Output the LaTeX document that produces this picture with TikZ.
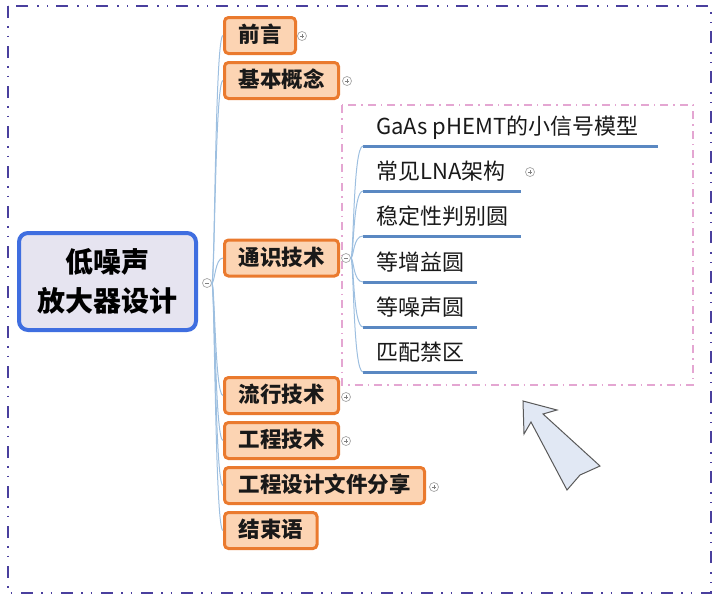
\documentclass[tikz,border=0pt]{standalone}
\usepackage{fontspec}
\setmainfont{Noto Sans CJK SC}
\definecolor{topicline}{HTML}{3F6EE0}
\definecolor{topicfill}{HTML}{E6E4F0}
\definecolor{branchline}{HTML}{EA7A2E}
\definecolor{branchfill}{HTML}{FCD4B3}
\definecolor{linkblue}{HTML}{9DBFE0}
\definecolor{sublineblue}{HTML}{5A88C2}
\definecolor{framecol}{HTML}{4A3F9E}
\definecolor{boxpink}{HTML}{E4A6D2}
\definecolor{arrowfill}{HTML}{E1E8F4}
\tikzset{
  topic/.style={draw=topicline, line width=4pt, fill=topicfill, rounded corners=9pt,
    minimum width=177pt, minimum height=97pt, align=center,
    font=\fontsize{28}{39}\selectfont\bfseries},
  branch/.style={draw=branchline, line width=3pt, fill=branchfill, rounded corners=4pt,
    anchor=west, inner xsep=14pt, minimum height=36pt, text height=17pt, text depth=3pt,
    font=\fontsize{21.5}{26}\selectfont\bfseries, text=black!90},
  subtopic/.style={anchor=south west, inner xsep=13pt, inner ysep=7pt,
    text height=16pt, text depth=4pt, font=\fontsize{22}{26}\selectfont, text=black!90},
  subline/.style={draw=sublineblue, line width=3pt},
  link/.style={draw=linkblue, line width=1pt},
  toggle/.style={circle, draw=gray!70, fill=white, line width=0.7pt, minimum size=9pt, inner sep=0pt},
  toggleplus/.style={toggle, path picture={
    \draw[gray, line width=0.7pt] ([xshift=-2.2pt]path picture bounding box.center) -- ([xshift=2.2pt]path picture bounding box.center)
      ([yshift=-2.2pt]path picture bounding box.center) -- ([yshift=2.2pt]path picture bounding box.center);}},
  toggleminus/.style={toggle, path picture={
    \draw[gray, line width=0.7pt] ([xshift=-2.2pt]path picture bounding box.center) -- ([xshift=2.2pt]path picture bounding box.center);}},
  frame/.style={draw=framecol, line width=2pt, dash pattern=on 12pt off 8pt on 1.5pt off 8pt on 1.5pt off 9pt},
  pinkbox/.style={draw=boxpink, line width=1.5pt, dash pattern=on 8pt off 5pt on 1.5pt off 5pt}
}
\begin{document}
\begin{tikzpicture}[x=1pt,y=-1pt]
\useasboundingbox (0,0) rectangle (720,598);
\draw[frame] (8,6) rectangle (711,593);
\draw[pinkbox] (342,105) rectangle (693,385);
% central topic
\node[topic] (lna) at (107.5,281.5) {低噪声\\放大器设计};
\node[toggleminus] (ltog) at (207,283) {};
% main branches
\node[branch] (pre) at (223,35.5) {前言};
\node[branch] (basic) at (223,80.5) {基本概念};
\node[branch] (gen) at (223,258) {通识技术};
\node[branch] (pop) at (223,395.5) {流行技术};
\node[branch] (eng) at (223,440.5) {工程技术};
\node[branch] (share) at (223,485.5) {工程设计文件分享};
\node[branch] (end) at (223,530.5) {结束语};
\node[toggleplus] (pretog) at (302,36) {};
\node[toggleplus] (basictog) at (347,81) {};
\node[toggleminus] (gentog) at (346,258) {};
\node[toggleplus] (poptog) at (346,397) {};
\node[toggleplus] (engtog) at (346,441) {};
\node[toggleplus] (sharetog) at (434,487) {};
\draw[link] (ltog.east) .. controls +(3,0) and +(-8,0) .. (pre.west);
\draw[link] (ltog.east) .. controls +(3,0) and +(-8,0) .. (basic.west);
\draw[link] (ltog.east) .. controls +(3,0) and +(-8,0) .. (gen.west);
\draw[link] (ltog.east) .. controls +(3,0) and +(-8,0) .. (pop.west);
\draw[link] (ltog.east) .. controls +(3,0) and +(-8,0) .. (eng.west);
\draw[link] (ltog.east) .. controls +(3,0) and +(-8,0) .. (share.west);
\draw[link] (ltog.east) .. controls +(3,0) and +(-8,0) .. (end.west);
% sub topics
\node[subtopic] (model) at (363,146) {GaAs pHEMT的小信号模型};
\node[subtopic] (arch) at (363,191) {常见LNA架构};
\node[subtopic] (stab) at (363,236) {稳定性判别圆};
\node[subtopic] (gain) at (363,282) {等增益圆};
\node[subtopic] (noise) at (363,327) {等噪声圆};
\node[subtopic] (match) at (363,372) {匹配禁区};
\node[toggleplus] (archtog) at (530,172) {};
\draw[subline] (model.south west) -- +(295,0);
\draw[subline] (arch.south west) -- +(158,0);
\draw[subline] (stab.south west) -- +(158,0);
\draw[subline] (gain.south west) -- +(114,0);
\draw[subline] (noise.south west) -- +(114,0);
\draw[subline] (match.south west) -- +(114,0);
\draw[link] (gentog.east) .. controls +(3,0) and +(-10,0) .. (model.south west);
\draw[link] (gentog.east) .. controls +(3,0) and +(-10,0) .. (arch.south west);
\draw[link] (gentog.east) .. controls +(3,0) and +(-10,0) .. (stab.south west);
\draw[link] (gentog.east) .. controls +(3,0) and +(-10,0) .. (gain.south west);
\draw[link] (gentog.east) .. controls +(3,0) and +(-10,0) .. (noise.south west);
\draw[link] (gentog.east) .. controls +(3,0) and +(-10,0) .. (match.south west);
% pointer arrow
\draw[fill=arrowfill, draw=black!65, line width=1pt, line join=miter]
  (523,401) -- (557,410) -- (543,414) -- (600,466) -- (580,475) -- (567,490) -- (531,422) -- (524,434) -- cycle;
\end{tikzpicture}
\end{document}
